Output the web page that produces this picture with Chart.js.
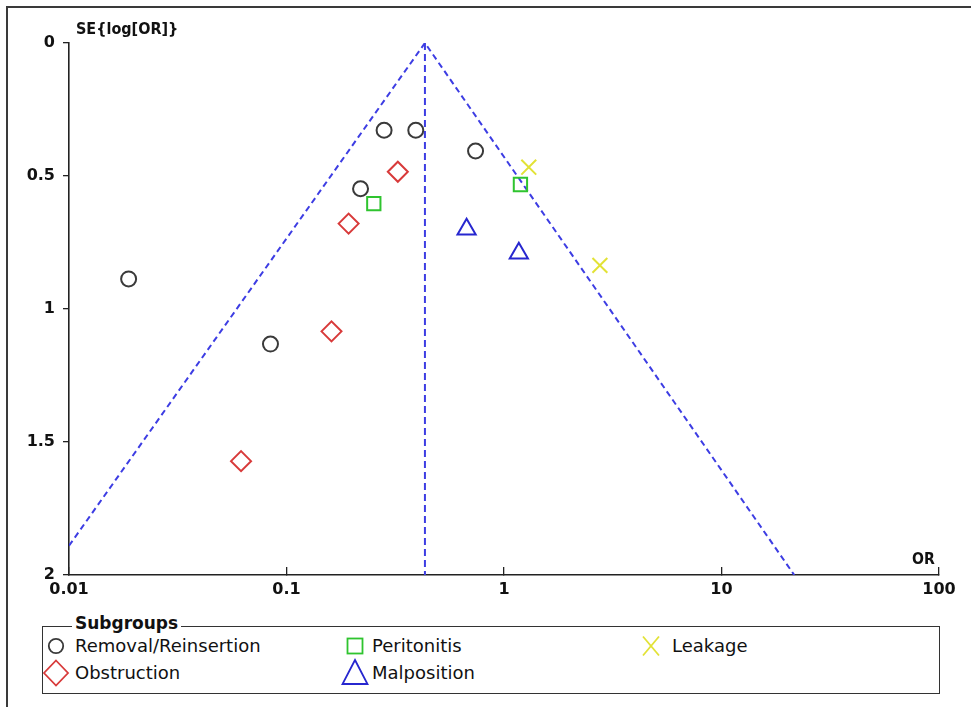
<!DOCTYPE html>
<html><head><meta charset="utf-8">
<script src="https://cdn.jsdelivr.net/npm/chart.js@4"></script>
<style>
html,body{margin:0;padding:0;background:#fff;width:971px;height:707px;overflow:hidden;}
#frame{position:absolute;left:6px;top:6px;width:1000px;height:800px;border-left:2px solid #3a3a3a;border-top:2px solid #3a3a3a;box-sizing:border-box;}
#c{position:absolute;left:0;top:0;}
.lbl{position:absolute;font-family:"DejaVu Sans";font-weight:bold;color:#111;white-space:nowrap;transform-origin:0 0;}
#ytitle{left:76px;top:21px;font-size:16px;line-height:16px;transform:scaleX(0.9);}
#xtitle{left:912px;top:551px;font-size:16px;line-height:16px;transform:scaleX(0.88);}
#legbox{position:absolute;left:42px;top:626px;width:898px;height:68px;border:1.5px solid #333;box-sizing:border-box;}
#legtitle{position:absolute;left:72px;top:615px;background:#fff;padding:0 3px;font:bold 17px "DejaVu Sans";line-height:17px;color:#111;}
.item{position:absolute;font:18px "DejaVu Sans";line-height:18px;color:#111;white-space:nowrap;}
svg.mk{position:absolute;overflow:visible;}
</style></head>
<body>
<div id="frame"></div>
<canvas id="c" width="971" height="610"></canvas>
<div class="lbl" id="ytitle">SE{log[OR]}</div>
<div class="lbl" id="xtitle">OR</div>
<div id="legbox"></div>
<div id="legtitle">Subgroups</div>
<div id="legend"></div>
<script>
// ---- data ----
const xTickValues = [0.01, 0.1, 1, 10, 100];
const xTickLabels = ['0.01', '0.1', '1', '10', '100'];
const yTickValues = [0, 0.5, 1, 1.5, 2];
const yTickLabels = ['0', '0.5', '1', '1.5', '2'];

const subgroupNames = ['Removal/Reinsertion', 'Obstruction', 'Peritonitis', 'Malposition', 'Leakage'];

const removalOR = [0.0188, 0.0844, 0.219, 0.281, 0.393, 0.740];
const removalSE = [0.887, 1.132, 0.548, 0.328, 0.328, 0.406];
const obstructionOR = [0.325, 0.193, 0.161, 0.0618];
const obstructionSE = [0.484, 0.679, 1.084, 1.572];
const peritonitisOR = [0.252, 1.19];
const peritonitisSE = [0.604, 0.532];
const malpositionOR = [0.673, 1.17];
const malpositionSE = [0.70, 0.79];
const leakageOR = [1.30, 2.76];
const leakageSE = [0.467, 0.836];

const funnelOR = [0.01, 0.433, 21.6];
const funnelSE = [1.89, 0, 2];
const centreOR = [0.433, 0.433];
const centreSE = [0, 2];

// ---- styling ----
const styles = [
  {pointStyle: 'circle', radius: 7.5, color: '#3a3a3a'},
  {pointStyle: 'rectRot', radius: 10, color: '#d83a3a'},
  {pointStyle: 'rect', radius: 9.4, color: '#2fc42f'},
  {pointStyle: 'triangle', radius: 10.5, color: '#2727cf'},
  {pointStyle: 'crossRot', radius: 10.5, color: '#e2e236'}
];
const seriesOR = [removalOR, obstructionOR, peritonitisOR, malpositionOR, leakageOR];
const seriesSE = [removalSE, obstructionSE, peritonitisSE, malpositionSE, leakageSE];

const pts = (xs, ys) => xs.map((x, i) => ({x: x, y: ys[i]}));
const funnelColor = '#3d3de3';

const datasets = [
  {type: 'scatter', label: 'funnel', data: pts(funnelOR, funnelSE), showLine: true,
   borderColor: funnelColor, borderWidth: 2, borderDash: [6, 4], pointRadius: 0, fill: false, order: 10},
  {type: 'scatter', label: 'centre', data: pts(centreOR, centreSE), showLine: true,
   borderColor: funnelColor, borderWidth: 2, borderDash: [7, 4], pointRadius: 0, fill: false, order: 10}
];
subgroupNames.forEach((name, i) => {
  const s = styles[i];
  datasets.push({type: 'scatter', label: name, data: pts(seriesOR[i], seriesSE[i]),
    pointStyle: s.pointStyle, pointRadius: s.radius, pointHoverRadius: s.radius,
    borderColor: s.color, backgroundColor: 'rgba(0,0,0,0)', pointBorderWidth: 2, borderWidth: 2, order: 1});
});

const tickFont = {family: 'DejaVu Sans', size: 16, weight: 'bold'};
new Chart(document.getElementById('c'), {
  type: 'scatter',
  data: {datasets: datasets},
  options: {
    responsive: false, animation: false, events: [],
    layout: {padding: {left: 0, right: 32, top: 43, bottom: 0}},
    plugins: {legend: {display: false}, tooltip: {enabled: false}},
    scales: {
      x: {
        type: 'logarithmic', position: 'bottom', min: 0.01, max: 100,
        afterBuildTicks: sc => { sc.ticks = xTickValues.map(v => ({value: v})); },
        afterFit: sc => { sc.height = 35; },
        ticks: {font: tickFont, color: '#111', padding: 13, maxRotation: 0, autoSkip: false,
          callback: (v) => { const k = xTickValues.indexOf(v); return k >= 0 ? xTickLabels[k] : ''; }},
        grid: {drawOnChartArea: false, drawTicks: true, tickLength: -8, color: '#222', lineWidth: 1.3},
        border: {display: true, color: '#222', width: 1.6}
      },
      y: {
        type: 'linear', position: 'left', reverse: true, min: 0, max: 2,
        afterBuildTicks: sc => { sc.ticks = yTickValues.map(v => ({value: v})); },
        afterFit: sc => { sc.width = 69; },
        ticks: {font: tickFont, color: '#111', padding: 8, autoSkip: false,
          callback: (v) => { const k = yTickValues.indexOf(v); return k >= 0 ? yTickLabels[k] : ''; }},
        grid: {drawOnChartArea: false, drawTicks: true, tickLength: 6, color: '#222', lineWidth: 1.3},
        border: {display: true, color: '#222', width: 1.6}
      }
    }
  }
});

// ---- HTML legend (fieldset style) ----
const colMarkerX = [56, 355, 651];
const colTextX = [75, 372, 672];
const rowY = [646, 673];
const legend = document.getElementById('legend');
function markerSVG(style, color) {
  const ns = 'http://www.w3.org/2000/svg';
  let inner = '';
  const sw = 'stroke="' + color + '" stroke-width="1.8" fill="none"';
  if (style === 'circle') inner = '<circle cx="0" cy="0" r="7.2" ' + sw + '/>';
  else if (style === 'rectRot') inner = '<polygon points="0,-12.5 12,0 0,12.5 -12,0" ' + sw + '/>';
  else if (style === 'rect') inner = '<rect x="-7.5" y="-7.5" width="15" height="15" ' + sw + '/>';
  else if (style === 'triangle') inner = '<polygon points="0,-13 12.5,11 -12.5,11" ' + sw + '/>';
  else if (style === 'crossRot') inner = '<line x1="-8" y1="-9.5" x2="8" y2="9.5" ' + sw + '/><line x1="8" y1="-9.5" x2="-8" y2="9.5" ' + sw + '/>';
  return '<svg class="mk" xmlns="' + ns + '" width="1" height="1">' + inner + '</svg>';
}
subgroupNames.forEach((name, i) => {
  const col = Math.floor(i / 2), row = i % 2;
  const wrap = document.createElement('div');
  wrap.innerHTML = markerSVG(styles[i].pointStyle, styles[i].color);
  const svg = wrap.firstChild;
  svg.style.left = colMarkerX[col] + 'px';
  svg.style.top = rowY[row] + 'px';
  legend.appendChild(svg);
  const t = document.createElement('div');
  t.className = 'item';
  t.textContent = name;
  t.style.left = colTextX[col] + 'px';
  t.style.top = (rowY[row] - 8.6) + 'px';
  legend.appendChild(t);
});
</script>
</body></html>
